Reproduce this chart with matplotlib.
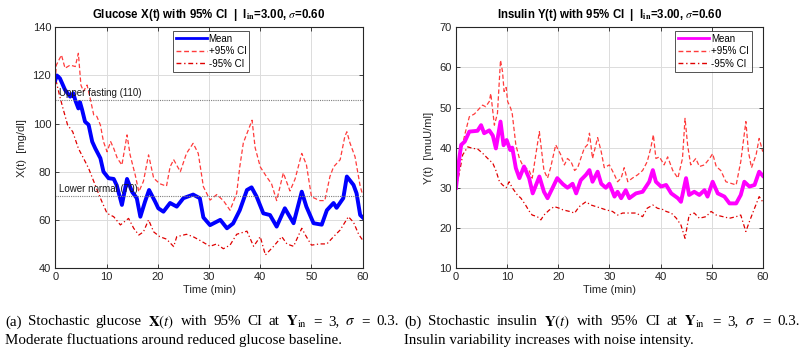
import matplotlib
matplotlib.use("Agg")
import matplotlib.pyplot as plt
from matplotlib.lines import Line2D

plt.rcParams['font.family'] = ['Liberation Sans', 'DejaVu Sans']
plt.rcParams['mathtext.fontset'] = 'stix'

# ---------------- Glucose panel data ----------------
g_mean_t = [0, 0.3, 0.9, 1.9, 2.9, 3.5, 3.9, 4.5, 4.8, 5.2, 5.8, 6.5, 7.2, 7.8, 8.8, 9.4, 10.4, 11.4, 12, 13,
            14, 15, 15.9, 16.6, 17.5, 18.3, 19.5, 20.1, 21.1, 22.4, 23.7, 25, 26.9, 28.2, 28.9, 30.2, 32.2, 33.5,
            34.7, 36, 37.4, 38.3, 39.3, 40.6, 41.9, 43.2, 44.8, 46.5, 48.1, 49, 50.4, 52, 53, 54.3, 54.9, 56.2,
            56.9, 58.2, 58.8, 59.5, 60]
g_mean_v = [118, 120, 118.8, 114, 111.2, 112.6, 109.7, 106.3, 109, 106, 100.8, 99.5, 92.5, 89.7, 85.6, 80, 77.3,
            77, 74.3, 66.2, 77, 71.6, 69, 61.3, 67.5, 72.4, 67.5, 64.8, 63.4, 67, 65.5, 69, 70.5, 69, 61, 57.8, 60,
            56.5, 58.5, 64, 72.4, 73.5, 69.6, 62.7, 62, 57.2, 64.8, 58.6, 71.7, 65.5, 58.6, 58, 64, 67, 65, 69, 78,
            74.5, 71, 62, 61]

g_up_t = [0, 0.2, 1.2, 1.9, 2.9, 3.9, 4.5, 5, 5.5, 6.2, 6.8, 7.5, 8.1, 8.8, 9.4, 10.1, 10.8, 11.4, 12.1, 13, 14,
          14.6, 15.6, 16.3, 17.2, 18.2, 19.2, 20.4, 21.7, 22.4, 23.1, 24.4, 25.6, 26.9, 27.9, 28.9, 30.2, 31.5,
          32.8, 34.1, 35.4, 36, 36.7, 38.4, 39, 40, 41.2, 42.2, 43.2, 44.5, 45.8, 46.8, 48.1, 49, 50, 51.6, 52.6,
          53.6, 54.3, 55.6, 56.5, 56.9, 57.5, 58.5, 59.5, 60]
g_up_v = [118, 124.3, 128.5, 123, 124.3, 123.7, 129.2, 116, 113.4, 116, 110.5, 103.6, 103, 99.4, 92.5, 88.3, 92.5,
          89.7, 85.6, 82.8, 95.3, 87, 78.6, 71.7, 76, 87, 77.3, 75, 74, 82, 85, 80, 87.6, 91.8, 87.6, 73.8, 68.2,
          70.5, 68, 64, 71, 82, 92, 101.4, 90, 82, 78, 75, 68, 79.5, 72, 77, 87.6, 83, 69.6, 68, 68, 78, 82, 85,
          94.6, 96.6, 92, 86.2, 74, 70.3]

g_lo_t = [0, 0.2, 0.8, 1.5, 2.4, 3.4, 4.5, 5.5, 6.5, 7.5, 8.8, 10.1, 11.4, 12.7, 14.3, 15.3, 16.3, 17.2, 18.2,
          19.2, 20.4, 21.7, 23.1, 23.7, 25.6, 26.9, 28.2, 30.2, 31.5, 32.8, 34.1, 35.4, 37.4, 38.7, 40, 41, 42.6,
          44.2, 45.2, 46.5, 48.1, 49, 50, 51.6, 53, 54.3, 55.6, 57.2, 58.2, 59.2, 60]
g_lo_v = [118, 117.4, 111.9, 106.3, 99.4, 96.6, 89.7, 85.6, 81.4, 76, 69, 62.7, 61.3, 57.9, 60.6, 56.5, 53.7, 55,
          60, 55, 53, 52, 48.9, 53, 54, 53, 51.5, 49, 50, 48, 49.5, 54, 55.3, 49, 53, 45.4, 49, 53, 50, 49, 56.5,
          53, 49.5, 50, 50, 53, 55.8, 61.3, 59, 54, 51.5]

g_ref_levels = [110, 70]
g_ref_labels = ['Upper fasting (110)', 'Lower normal (70)']

# ---------------- Insulin panel data ----------------
i_mean_t = [0, 0.5, 1, 1.7, 2.6, 4.2, 4.9, 5.5, 6.5, 7.2, 7.8, 8.7, 9.3, 9.9, 10.6, 11, 11.7, 12.4, 13.3, 14.3,
            15, 16.3, 17.2, 17.9, 18.9, 19.8, 20.9, 21.8, 22.8, 23.5, 24.4, 25.4, 26.1, 26.7, 27.7, 28.4, 29.3,
            30, 31, 31.6, 32.3, 33.2, 33.9, 35.2, 36.5, 37.8, 38.5, 39.1, 40.1, 41.1, 42.1, 43.4, 44, 45, 45.6,
            46.6, 47.6, 48.6, 49.2, 50.2, 51.2, 52.5, 53.5, 54.8, 55.7, 56.4, 57.4, 58.4, 59.3, 60]
i_mean_v = [30, 36, 40.7, 41.5, 44, 44.2, 45.6, 43.6, 44.3, 43, 39.8, 46.5, 40.6, 41.9, 39.4, 40, 34.9, 32.4,
            35.3, 32.4, 28.6, 32.8, 29, 27.4, 30, 32.4, 30.9, 30, 31, 28.6, 31.9, 33.2, 34.4, 31.5, 34, 31, 30, 31,
            27.8, 29, 27.4, 29.4, 27.4, 28.6, 29, 31.5, 34.4, 31.5, 30.3, 30.7, 28.6, 27.4, 26.5, 32.4, 28.2, 29,
            28.2, 29.4, 27.8, 31.5, 28.6, 27.8, 26.1, 26.1, 28.2, 31.5, 30.3, 30.7, 34, 33]

i_up_t = [0, 0.5, 1, 1.7, 2.6, 3.6, 4.6, 5.2, 5.8, 6.5, 6.8, 7.5, 8.1, 8.7, 9.1, 9.4, 9.8, 10.1, 10.7, 11, 11.7,
          12.4, 13, 13.6, 14.3, 14.9, 15.6, 16.3, 16.6, 17.2, 17.9, 18.5, 19.5, 20.5, 21.2, 21.8, 22.5, 23.2,
          23.8, 24.4, 25.1, 25.7, 26.1, 26.7, 27.7, 28.4, 29, 30, 31, 31.6, 32.3, 32.9, 33.6, 34.5, 35.5, 36.5,
          37.4, 38.1, 38.6, 39.1, 39.8, 40.7, 41.4, 42.4, 43.4, 44.3, 44.8, 45.3, 45.9, 46.9, 47.6, 48.6, 49.6,
          50.2, 50.9, 51.8, 52.8, 53.8, 54.8, 55.7, 56.7, 57.2, 57.8, 58.7, 59.3, 60]
i_up_v = [30, 35.7, 39, 43.2, 47.7, 48.4, 49.8, 50.6, 50.2, 51.5, 53.5, 45.6, 48.5, 61.8, 58.9, 54, 55, 51.5,
          49.8, 48.4, 40.7, 37.3, 35.7, 35, 34.3, 32.4, 38.2, 44, 40.7, 34.3, 32.4, 35, 40.7, 38.2, 35.7, 37.3,
          36.5, 34.3, 35, 37.3, 39.9, 40.7, 43.6, 37.3, 42.5, 39, 35, 35.7, 33.2, 31.5, 32.4, 35, 31.5, 32.4, 33.2,
          34.3, 36.5, 39.9, 43.2, 37.3, 37.7, 35.7, 37.7, 34.3, 32.4, 37.3, 47.3, 40.7, 35.7, 37.3, 35.3, 35.7,
          37.3, 38.5, 35.3, 34.3, 31.5, 31.1, 30.7, 36.5, 46.5, 39, 35, 38.2, 42.3, 39]

i_lo_t = [0, 0.7, 1.3, 2.3, 3.3, 4.2, 5.2, 6.2, 7.2, 7.8, 8.5, 9.1, 9.8, 10.4, 11, 12, 12.7, 13.6, 14.3, 14.9,
          15.9, 16.6, 17.2, 18.2, 19.2, 20.2, 20.9, 22.2, 23.2, 24.1, 25.4, 26.4, 27.4, 28.4, 29.3, 30.6, 31.6,
          32.6, 33.9, 35.2, 36.5, 37.4, 38.5, 39.4, 40.7, 41.1, 42.1, 43.1, 44, 44.8, 45.6, 46.6, 47.6, 48.9,
          49.9, 50.9, 52.2, 53.5, 54.8, 55.7, 56.4, 56.7, 57.4, 58.4, 59.3, 60]
i_lo_v = [30, 34, 38.2, 40.2, 39.8, 39.7, 38.6, 37.3, 36.1, 34.3, 31.5, 30.7, 30, 31.5, 30, 28.2, 27.4, 25.7,
          24.2, 23.2, 22.8, 22, 23.2, 24.4, 25.3, 24.9, 24.5, 24.1, 23.7, 25.3, 26.5, 25.7, 25.3, 24.9, 24.5,
          24.1, 23.2, 23.7, 23.7, 23.7, 22.8, 24.9, 25.7, 24.9, 24.5, 24.1, 23.7, 22.4, 20.7, 17.4, 23.2, 23.7,
          22.4, 22.8, 24.1, 23.2, 22.8, 22.4, 22.8, 23.2, 20.3, 19.1, 21.6, 24.9, 27.8, 26.5]

legend_labels = ['Mean', '+95% CI', '-95% CI']
caption_a1 = ["(a)", "Stochastic", "glucose", r"$\mathbf{X}(t)$", "with", "95%", "CI", "at",
              r"$\mathbf{Y}_{\mathrm{in}}$", "=", "3,", r"$\sigma$", "=", "0.3."]
caption_a2 = "Moderate fluctuations around reduced glucose baseline."
caption_b1 = ["(b)", "Stochastic", "insulin", r"$\mathbf{Y}(t)$", "with", "95%", "CI", "at",
              r"$\mathbf{Y}_{\mathrm{in}}$", "=", "3,", r"$\sigma$", "=", "0.3."]
caption_b2 = "Insulin variability increases with noise intensity."

UP_COLOR = '#ff3b3b'
LO_COLOR = '#e00000'
UP_STYLE = (0, (3.5, 2))
LO_STYLE = (0, (3.5, 2, 1, 2))

W, H = 805, 351
fig = plt.figure(figsize=(W / 100, H / 100), dpi=100)
axL = fig.add_axes([0.0687, 0.2365, 0.3819, 0.6857])
axR = fig.add_axes([0.5665, 0.2365, 0.3810, 0.6857])


def style_axes(ax, ylim, yticks, ylabel, title):
    ax.set_xlim(0, 60)
    ax.set_ylim(*ylim)
    ax.set_xticks(range(0, 61, 10))
    ax.set_yticks(yticks)
    ax.grid(True, color='#dcdcdc', linewidth=0.7)
    ax.set_axisbelow(True)
    ax.tick_params(direction='in', top=True, right=True, labelsize=8, length=3, width=0.6,
                   colors='#262626', pad=3)
    for s in ax.spines.values():
        s.set_linewidth(0.8)
        s.set_color('#262626')
    ax.set_xlabel('Time (min)', fontsize=8, color='#262626', labelpad=2)
    ax.set_ylabel(ylabel, fontsize=8, color='#262626', labelpad=4)
    ax.set_title(title, fontsize=8.3, fontweight='bold', pad=7)


def make_legend(ax, mean_color, loc_anchor):
    handles = [Line2D([], [], color=mean_color, lw=2),
               Line2D([], [], color=UP_COLOR, lw=1, linestyle=UP_STYLE),
               Line2D([], [], color=LO_COLOR, lw=1, linestyle=LO_STYLE)]
    leg = ax.legend(handles, legend_labels, loc='upper left', bbox_to_anchor=loc_anchor,
                    fontsize=7, frameon=True, fancybox=False, edgecolor='#262626',
                    handlelength=3.2, handletextpad=0.2, labelspacing=0.25, borderpad=0.3,
                    borderaxespad=0)
    leg.get_frame().set_linewidth(0.7)


# Glucose
axL.plot(g_up_t, g_up_v, color=UP_COLOR, lw=0.9, linestyle=UP_STYLE)
axL.plot(g_lo_t, g_lo_v, color=LO_COLOR, lw=0.9, linestyle=LO_STYLE)
axL.plot(g_mean_t, g_mean_v, color='#0000ff', lw=2.8)
for lev, lab in zip(g_ref_levels, g_ref_labels):
    axL.axhline(lev, color='#7f7f7f', lw=0.8, linestyle=(0, (1, 1)))
    axL.text(0.8, lev + 0.8, lab, fontsize=7, va='bottom', ha='left', color='#1a1a1a')
style_axes(axL, (40, 140), range(40, 141, 20), 'X(t)  [mg/dl]',
           r'Glucose X(t) with 95% CI  |  I$_{\mathbf{in}}$=3.00, $\sigma$=0.60')
make_legend(axL, '#0000ff', (0.382, 0.985))

# Insulin
axR.plot(i_up_t, i_up_v, color=UP_COLOR, lw=0.9, linestyle=UP_STYLE)
axR.plot(i_lo_t, i_lo_v, color=LO_COLOR, lw=0.9, linestyle=LO_STYLE)
axR.plot(i_mean_t, i_mean_v, color='#ff00ff', lw=2.8)
style_axes(axR, (10, 70), range(10, 71, 10), r'Y(t)  [\muU/ml]',
           r'Insulin Y(t) with 95% CI  |  I$_{\mathbf{in}}$=3.00, $\sigma$=0.60')
make_legend(axR, '#ff00ff', (0.715, 0.985))

# Captions (first line justified across the column width)
CAP_FS = 10.8
renderer = fig.canvas.get_renderer()


def justified_line(words, x0_px, x1_px, y_frac):
    texts = [fig.text(0, y_frac, w, fontsize=CAP_FS, family='Liberation Serif', va='center', ha='left')
             for w in words]
    widths = [t.get_window_extent(renderer).width for t in texts]
    gap = (x1_px - x0_px - sum(widths)) / (len(words) - 1)
    x = x0_px
    for t, w in zip(texts, widths):
        t.set_x(x / W)
        x += w + gap


justified_line(caption_a1, 5, 399, 0.083)
fig.text(5 / W, 0.031, caption_a2, fontsize=CAP_FS, family='Liberation Serif', va='center', ha='left')
justified_line(caption_b1, 404, 800, 0.083)
fig.text(404 / W, 0.031, caption_b2, fontsize=CAP_FS, family='Liberation Serif', va='center', ha='left')

fig.savefig('out.png', dpi=100)
